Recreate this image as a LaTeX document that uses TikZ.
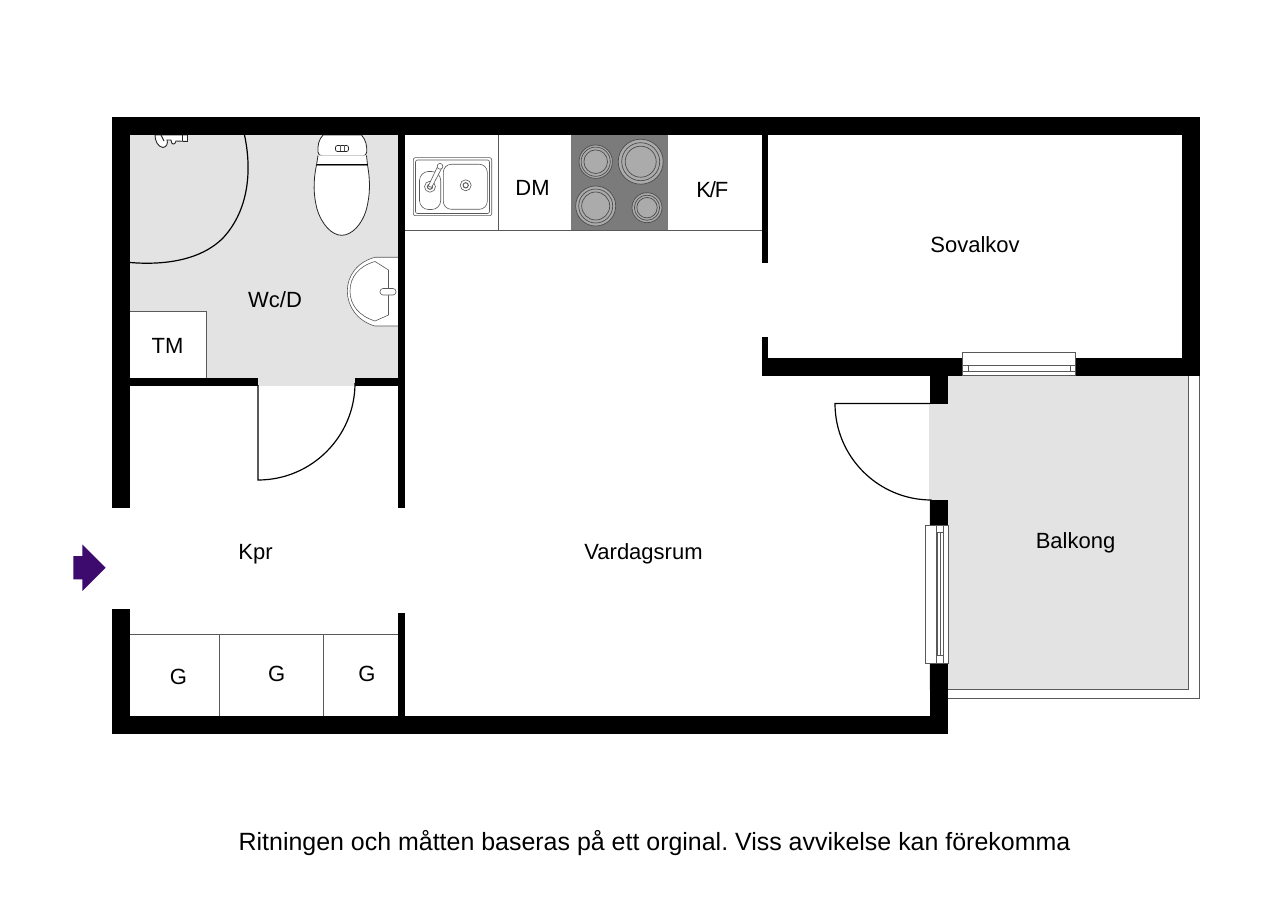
\documentclass[tikz,border=0pt]{standalone}
\usepackage{fontspec}
\setmainfont{Liberation Sans}
\frenchspacing
\definecolor{floorgray}{HTML}{E3E3E3}
\definecolor{hobgray}{HTML}{7B7B7B}
\definecolor{ringgray}{HTML}{ABABAB}
\definecolor{linegray}{HTML}{5A5A5A}
\definecolor{entry}{HTML}{3D0A6E}
\tikzset{
  wall/.style={fill=black,draw=none},
  floorfill/.style={fill=floorgray,draw=none},
  thinline/.style={draw=linegray,line width=1pt},
  fixture/.style={draw=black!85,line width=0.8pt,fill=white},
  fineline/.style={draw=black!65,line width=0.6pt},
  doorline/.style={draw=black,line width=1.2pt},
  ring/.style={draw=black!70,line width=0.7pt},
  roomlabel/.style={anchor=base,inner sep=0pt,font=\fontsize{22}{26}\selectfont},
  footer/.style={anchor=base,inner sep=0pt,font=\fontsize{24.95}{28}\selectfont}
}
\begin{document}
\begin{tikzpicture}[x=1pt,y=-1pt]
\useasboundingbox (0,0) rectangle (1280,904);
\fill[white] (0,0) rectangle (1280,904);
% floors
\path[floorfill] (130,135) rectangle (398,378);
\path[floorfill] (258,378) rectangle (355,386);
\path[floorfill] (929,376) rectangle (1189,689.5);
\fill[white] (929,376) rectangle (948,404);
% balcony rails
\draw[thinline] (1188.8,376) -- (1188.8,689.8) -- (948,689.8);
\draw[thinline,line width=0.9pt] (1199.5,376) -- (1199.5,698) -- (948,698);
% kitchen
\fill[hobgray] (571,135) rectangle (667.5,230.5);
\draw[thinline] (405,230.6) -- (762,230.6);
\draw[thinline] (498,135) -- (498,230.6);
\foreach \cx/\cy/\ra/\rb/\rc in {595.7/161.7/16.7/14.6/11.8, 640.7/161.7/22.5/19/15.5, 595.7/206/20/17/14, 647/207.7/15/12.6/10.2}{
  \fill[ringgray] (\cx,\cy) circle (\ra);
  \draw[ring] (\cx,\cy) circle (\ra);
  \draw[ring] (\cx,\cy) circle (\rb);
  \draw[ring] (\cx,\cy) circle (\rc);
}
% sink
\draw[fineline,rounded corners=2pt] (413.3,157.7) rectangle (491.7,215.7);
\draw[fineline,rounded corners=2pt] (415.5,160) rectangle (489.5,213.5);
\draw[fineline,rounded corners=9pt] (419.5,171.5) rectangle (440.7,209.5);
\draw[fineline,rounded corners=8pt] (443.3,164.3) rectangle (487.3,209.3);
\draw[fineline] (430,186.7) circle (5.5);
\draw[fineline,line width=1pt] (430,186.7) circle (2.6);
\draw[fineline] (465.7,185.3) circle (5.5);
\draw[fineline,line width=1pt] (465.7,185.3) circle (2.6);
\draw[fineline,fill=white] (428.3,186) -- (438,165.6) -- (442,167.6) -- (431.7,187.4) -- cycle;
\draw[fineline,fill=white] (440,166.3) circle (2.9);
% shower
\draw[doorline] (244.5,135) .. controls (252,170) and (249,210) .. (223,238) .. controls (199,262) and (160,265) .. (130,262.5);
\draw[fixture,line width=0.9pt] (155,135) .. controls (155,141) and (158,147) .. (163,147.5) .. controls (167,147) and (168,143) .. (167,140) -- (171,140) .. controls (171,145) and (175,145.5) .. (176,141) -- (187.5,141.5) -- (187.5,135) -- cycle;
\draw[fixture,line width=0.9pt] (161,135) -- (164,141);
\draw[fixture,line width=0.9pt] (182,135) -- (182,141.5);
% toilet
\draw[fixture] (323,135) .. controls (318.5,140) and (317.5,146) .. (318,152) .. controls (318,155) and (320,155.8) .. (323,155.8) -- (361,155.8) .. controls (365,155.8) and (366.8,155) .. (366.8,152) .. controls (367,146) and (366,140) .. (361.5,135) -- cycle;
\draw[fixture] (316.5,165) .. controls (313,182) and (313.5,195) .. (317,209) .. controls (322,225) and (332,235.3) .. (341.7,235.3) .. controls (351.5,235.3) and (362,225) .. (366.5,209) .. controls (370,195) and (370.5,182) .. (367.5,165) -- cycle;
\draw[fixture] (318,155.5) -- (316.5,165) -- (367.5,165) -- (366.5,155.5);
\draw[draw=black,line width=1.4pt] (317,164.3) -- (367.5,164.3);
\draw[fixture,line width=0.7pt,rounded corners=2pt] (335.5,145.5) rectangle (348.5,151.5);
\draw[fineline] (340,145.5) -- (340,151.5);
\draw[fineline] (344,145.5) -- (344,151.5);
% wash basin
\draw[fineline,fill=white] (398,257.3) -- (375,257.3) .. controls (357,262) and (347.3,276) .. (347.3,291) .. controls (347.3,306) and (357,321) .. (375,326) -- (398,326);
\draw[fineline] (375,261.5) -- (388.5,270) -- (388.5,315) -- (375,321) .. controls (359,316) and (350,305) .. (350,291) .. controls (350,277) and (359,266) .. (375,261.5);
\draw[fineline,fill=white,rounded corners=3pt] (396,288.5) -- (380,288.5) -- (380,295) -- (396,295) -- cycle;
% TM
\fill[white] (130,311.7) rectangle (206,378);
\draw[thinline] (130,311.7) -- (206,311.7) -- (206,378);
% door leaves
\draw[doorline] (258,385) -- (258,480) arc[start angle=90,end angle=0,radius=97];
\draw[doorline] (930,403.5) -- (835,403.5) arc[start angle=180,end angle=90,radius=96.5];
% closets
\draw[thinline] (130,634.3) -- (398,634.3);
\draw[thinline] (219,634.3) -- (219,716);
\draw[thinline] (323,634.3) -- (323,716);
% walls
\path[wall] (112,117) rectangle (1200,135);
\path[wall] (112,117) rectangle (130,508);
\path[wall] (112,609) rectangle (130,734);
\path[wall] (112,716) rectangle (948,734);
\path[wall] (1182,117) rectangle (1200,376);
\path[wall] (398,135) rectangle (405,508);
\path[wall] (398,613) rectangle (405,716);
\path[wall] (130,378) rectangle (258,385.5);
\path[wall] (355,378) rectangle (398,385.5);
\path[wall] (761.5,135) rectangle (768,263);
\path[wall] (761.5,337) rectangle (768,376);
\path[wall] (762,358) rectangle (963,376);
\path[wall] (1076,358) rectangle (1200,376);
\path[wall] (930,376) rectangle (948,403.5);
\path[wall] (930,500) rectangle (948,525);
\path[wall] (930,663) rectangle (948,734);
% top window
\draw[fineline,line width=0.8pt,fill=white] (962.7,352.7) rectangle (1075.7,375.5);
\draw[fineline,line width=0.8pt] (962.7,365) -- (1075.7,365);
\draw[fineline] (968.3,365) rectangle (1069.8,371.4);
\draw[fineline] (962.7,371.4) -- (1075.7,371.4);
% left window
\draw[fineline,line width=0.8pt,fill=white] (925,525) rectangle (948,663);
\draw[fineline,line width=0.8pt] (936.8,525) -- (936.8,663);
\draw[fineline] (936.8,532.7) rectangle (943.4,655.2);
\draw[fineline] (939.8,532.7) -- (939.8,655.2);
\draw[fineline] (943.4,525) -- (943.4,663);
% entry arrow
\fill[entry] (73.3,556) -- (82.3,556) -- (82.3,544.3) -- (105.7,567.7) -- (82.3,591) -- (82.3,579.3) -- (73.3,579.3) -- cycle;
% labels
\node[roomlabel] (wcd) at (275,307) {Wc/D};
\node[roomlabel] (tm) at (167.5,353.3) {TM};
\node[roomlabel] (dm) at (532.5,196) {DM};
\node[roomlabel] (kf) at (712.3,198) {K\kern-1.2pt/\kern-1.2pt F};
\node[roomlabel] (sovalkov) at (975,253) {Sovalkov};
\node[roomlabel] (kpr) at (255.5,559) {Kpr};
\node[roomlabel] (vardagsrum) at (643.5,559) {Vardagsrum};
\node[roomlabel] (balkong) at (1075.5,548.5) {Balkong};
\node[roomlabel] (g1) at (178.5,684) {G};
\node[roomlabel] (g2) at (276.7,681) {G};
\node[roomlabel] (g3) at (367,681) {G};
\node[footer] (note) at (654.5,850) {Ritningen och måtten baseras på ett orginal. Viss avvikelse kan förekomma};
\end{tikzpicture}
\end{document}
